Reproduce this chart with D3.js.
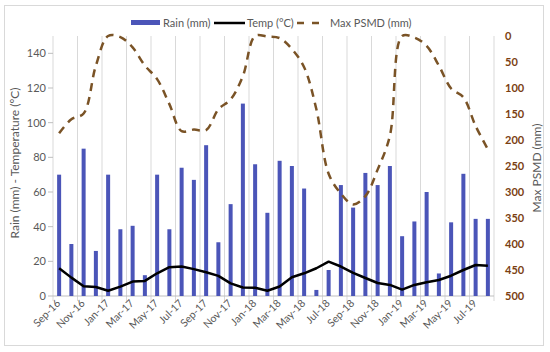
<!DOCTYPE html>
<html><head><meta charset="utf-8">
<script src="https://cdn.jsdelivr.net/npm/d3@7"></script>
<style>
body{margin:0;background:#fff;}
text{font-family:Lato,"Open Sans",sans-serif;}
</style></head>
<body><svg id="c" width="550" height="352"></svg>
<script>
const months = ["Sep-16","Oct-16","Nov-16","Dec-16","Jan-17","Feb-17","Mar-17","Apr-17","May-17","Jun-17","Jul-17","Aug-17",
"Sep-17","Oct-17","Nov-17","Dec-17","Jan-18","Feb-18","Mar-18","Apr-18","May-18","Jun-18","Jul-18","Aug-18",
"Sep-18","Oct-18","Nov-18","Dec-18","Jan-19","Feb-19","Mar-19","Apr-19","May-19","Jun-19","Jul-19","Aug-19"];
const rain = [70,30,85,26,70,38.5,40.5,12,70,38.5,74,67,87,31,53,111,76,48,78,75,62,3.5,15,64,51,71,64,75,34.5,43,60,13,42.5,70.5,44.5,44.5];
const temp = [16,10.6,5.6,5.2,3.0,5.4,8.3,8.7,13.1,16.6,17,15.5,13.7,11.6,7.3,4.9,4.8,3,5.5,10.8,13.1,16,19.8,17,13.3,10.4,7.5,6.4,3.7,6.4,7.9,9.2,11.7,15,17.9,17.5];
const psmd = [187,160,149,57,0,2,22,57,83,131,183,180,181,141,122,77,0,1,4,25,60,141,265,303,324,308,257,192,0,3,19,57,101,118,173,218];
const leftTicks = [0,20,40,60,80,100,120,140];
const rightTicks = [0,50,100,150,200,250,300,350,400,450,500];
const seriesNames = ["Rain (mm)","Temp (°C)","Max PSMD (mm)"];

const svg = d3.select("#c");
const L=53, R=494, T=36, B=296;
const x = d3.scaleBand().domain(months).range([L,R]).padding(0);
const yL = d3.scaleLinear().domain([0,150]).range([B,T]);
const yR = d3.scaleLinear().domain([0,500]).range([T,B]);
const cx = m => x(m)+x.bandwidth()/2;
const grey="#595959", rainC="#4b55b8", psC="#7a5326";

// outer border
svg.append("rect").attr("x",4.5).attr("y",5.5).attr("width",539).attr("height",340)
  .attr("fill","none").attr("stroke","#d9d9d9");

// vertical gridlines every 2 months
const bounds = d3.range(0, months.length+1, 2);
bounds.forEach(i=>{
  const xx = L + i*x.bandwidth();
  svg.append("line").attr("x1",xx).attr("x2",xx).attr("y1",T).attr("y2",B+5)
    .attr("stroke","#d9d9d9").attr("stroke-width",1);
});
// x axis line
svg.append("line").attr("x1",L).attr("x2",R).attr("y1",B).attr("y2",B).attr("stroke","#bfbfbf");

// left axis ticks + labels
leftTicks.forEach(t=>{
  svg.append("line").attr("x1",L-5).attr("x2",L).attr("y1",yL(t)).attr("y2",yL(t)).attr("stroke","#bfbfbf");
  svg.append("text").attr("x",46).attr("y",yL(t)+4).attr("text-anchor","end")
    .attr("font-size",11).attr("fill",grey).text(t);
});
// right axis labels
rightTicks.forEach(t=>{
  svg.append("text").attr("x",505).attr("y",yR(t)+4).attr("text-anchor","start")
    .attr("font-size",11).attr("font-weight","bold").attr("fill","#7b3f12").text(t);
});

// axis titles
svg.append("text").attr("transform","translate(19,163) rotate(-90)").attr("text-anchor","middle")
  .attr("font-size",12).attr("fill",grey).text("Rain (mm)  - Temperature (ºC)");
svg.append("text").attr("transform","translate(541,168) rotate(-90)").attr("text-anchor","middle")
  .attr("font-size",12).attr("fill",grey).text("Max PSMD (mm)");

// x labels
months.forEach((m,i)=>{
  if(i%2) return;
  svg.append("text").attr("transform",`translate(${cx(m)+2},${B+8}) rotate(-45)`)
    .attr("text-anchor","end").attr("font-size",10.5).attr("fill",grey).text(m);
});

// bars
svg.selectAll(".bar").data(rain).enter().append("rect")
  .attr("x",(d,i)=>cx(months[i])-2).attr("width",4)
  .attr("y",d=>yL(d)).attr("height",d=>B-yL(d)).attr("fill",rainC);

// temp line
svg.append("path").datum(temp)
  .attr("d",d3.line().x((d,i)=>cx(months[i])).y(d=>yL(d)))
  .attr("fill","none").attr("stroke","#000").attr("stroke-width",2.5).attr("stroke-linejoin","round");

// psmd line
svg.append("path").datum(psmd)
  .attr("d",d3.line().x((d,i)=>cx(months[i])).y(d=>yR(d)).curve(d3.curveCatmullRom.alpha(0.5)))
  .attr("fill","none").attr("stroke",psC).attr("stroke-width",2.5).attr("stroke-dasharray","8,6");

// legend
const lg = svg.append("g");
lg.append("rect").attr("x",131).attr("y",20).attr("width",29).attr("height",5).attr("fill",rainC);
lg.append("text").attr("x",163).attr("y",27).attr("font-size",11).attr("fill",grey).text(seriesNames[0]);
lg.append("line").attr("x1",214).attr("x2",245).attr("y1",23).attr("y2",23).attr("stroke","#000").attr("stroke-width",2.5);
lg.append("text").attr("x",247).attr("y",27).attr("font-size",11).attr("fill",grey).text(seriesNames[1]);
lg.append("line").attr("x1",297).attr("x2",320).attr("y1",23).attr("y2",23).attr("stroke",psC).attr("stroke-width",2.5).attr("stroke-dasharray","7,8");
lg.append("text").attr("x",330).attr("y",27).attr("font-size",11).attr("fill",grey).text(seriesNames[2]);
</script></body></html>
